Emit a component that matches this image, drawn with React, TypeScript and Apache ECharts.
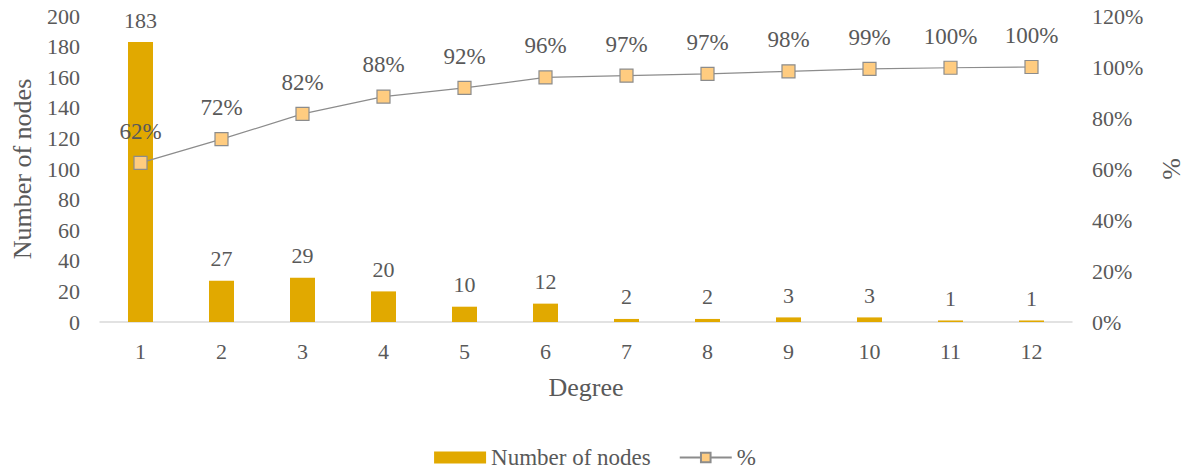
import React, { useEffect, useRef } from "react";
import * as echarts from "echarts";

const degrees = ["1", "2", "3", "4", "5", "6", "7", "8", "9", "10", "11", "12"];
const nodeCounts = [183, 27, 29, 20, 10, 12, 2, 2, 3, 3, 1, 1];
const cumulativePct = [62.4, 71.7, 81.6, 88.4, 91.8, 95.9, 96.6, 97.3, 98.3, 99.3, 99.7, 100];

const FONT = "Liberation Serif";
const TEXT = "#595959";

export default function App() {
  const ref = useRef<HTMLDivElement>(null);
  useEffect(() => {
    document.body.style.margin = "0";
    const chart = echarts.init(ref.current!, null, { renderer: "svg" });
    chart.setOption({
      animation: false,
      textStyle: { fontFamily: FONT, color: TEXT },
      grid: { left: 100, right: 118, top: 16, bottom: 150, outerBoundsMode: "none", containLabel: false },
      legend: {
        bottom: -2,
        left: "center",
        itemGap: 28,
        itemWidth: 52,
        itemHeight: 12,
        textStyle: { fontFamily: FONT, fontSize: 23, color: TEXT },
        data: [
          { name: "Number of nodes", icon: "rect" },
          { name: "%" },
        ],
      },
      xAxis: {
        type: "category",
        data: degrees,
        name: "Degree",
        nameLocation: "middle",
        nameGap: 52,
        nameTextStyle: { fontFamily: FONT, fontSize: 26, color: TEXT },
        axisLine: { lineStyle: { color: "#d9d9d9", width: 1.5 } },
        axisTick: { show: false },
        axisLabel: { fontFamily: FONT, fontSize: 22, color: TEXT, margin: 18 },
      },
      yAxis: [
        {
          type: "value",
          min: 0,
          max: 200,
          interval: 20,
          name: "Number of nodes",
          nameLocation: "middle",
          nameGap: 65,
          nameRotate: 90,
          nameTextStyle: { fontFamily: FONT, fontSize: 26, color: TEXT },
          splitLine: { show: false },
          axisLine: { show: false },
          axisTick: { show: false },
          axisLabel: { fontFamily: FONT, fontSize: 22, color: TEXT, margin: 20 },
        },
        {
          type: "value",
          min: 0,
          max: 120,
          interval: 20,
          name: "%",
          nameLocation: "middle",
          nameGap: 86,
          nameRotate: 90,
          nameTextStyle: { fontFamily: FONT, fontSize: 26, color: TEXT },
          splitLine: { show: false },
          axisLine: { show: false },
          axisTick: { show: false },
          axisLabel: {
            fontFamily: FONT,
            fontSize: 22,
            color: TEXT,
            margin: 20,
            formatter: (v: number) => v + "%",
          },
        },
      ],
      series: [
        {
          name: "Number of nodes",
          type: "bar",
          data: nodeCounts,
          barWidth: 25,
          itemStyle: { color: "#E1A900" },
          label: {
            show: true,
            position: "top",
            distance: 11,
            fontFamily: FONT,
            fontSize: 22,
            color: TEXT,
          },
        },
        {
          name: "%",
          type: "line",
          yAxisIndex: 1,
          data: cumulativePct,
          symbol: "rect",
          symbolSize: 13,
          lineStyle: { color: "#8c8c8c", width: 1.2 },
          itemStyle: { color: "#FFCC80", borderColor: "#8c8c8c", borderWidth: 1.2 },
          label: {
            show: true,
            position: "top",
            distance: 13,
            fontFamily: FONT,
            fontSize: 23,
            color: TEXT,
            formatter: (p: any) => Math.round(p.value) + "%",
          },
        },
      ],
    });
    return () => chart.dispose();
  }, []);
  return <div ref={ref} style={{ width: 1190, height: 472 }} />;
}
